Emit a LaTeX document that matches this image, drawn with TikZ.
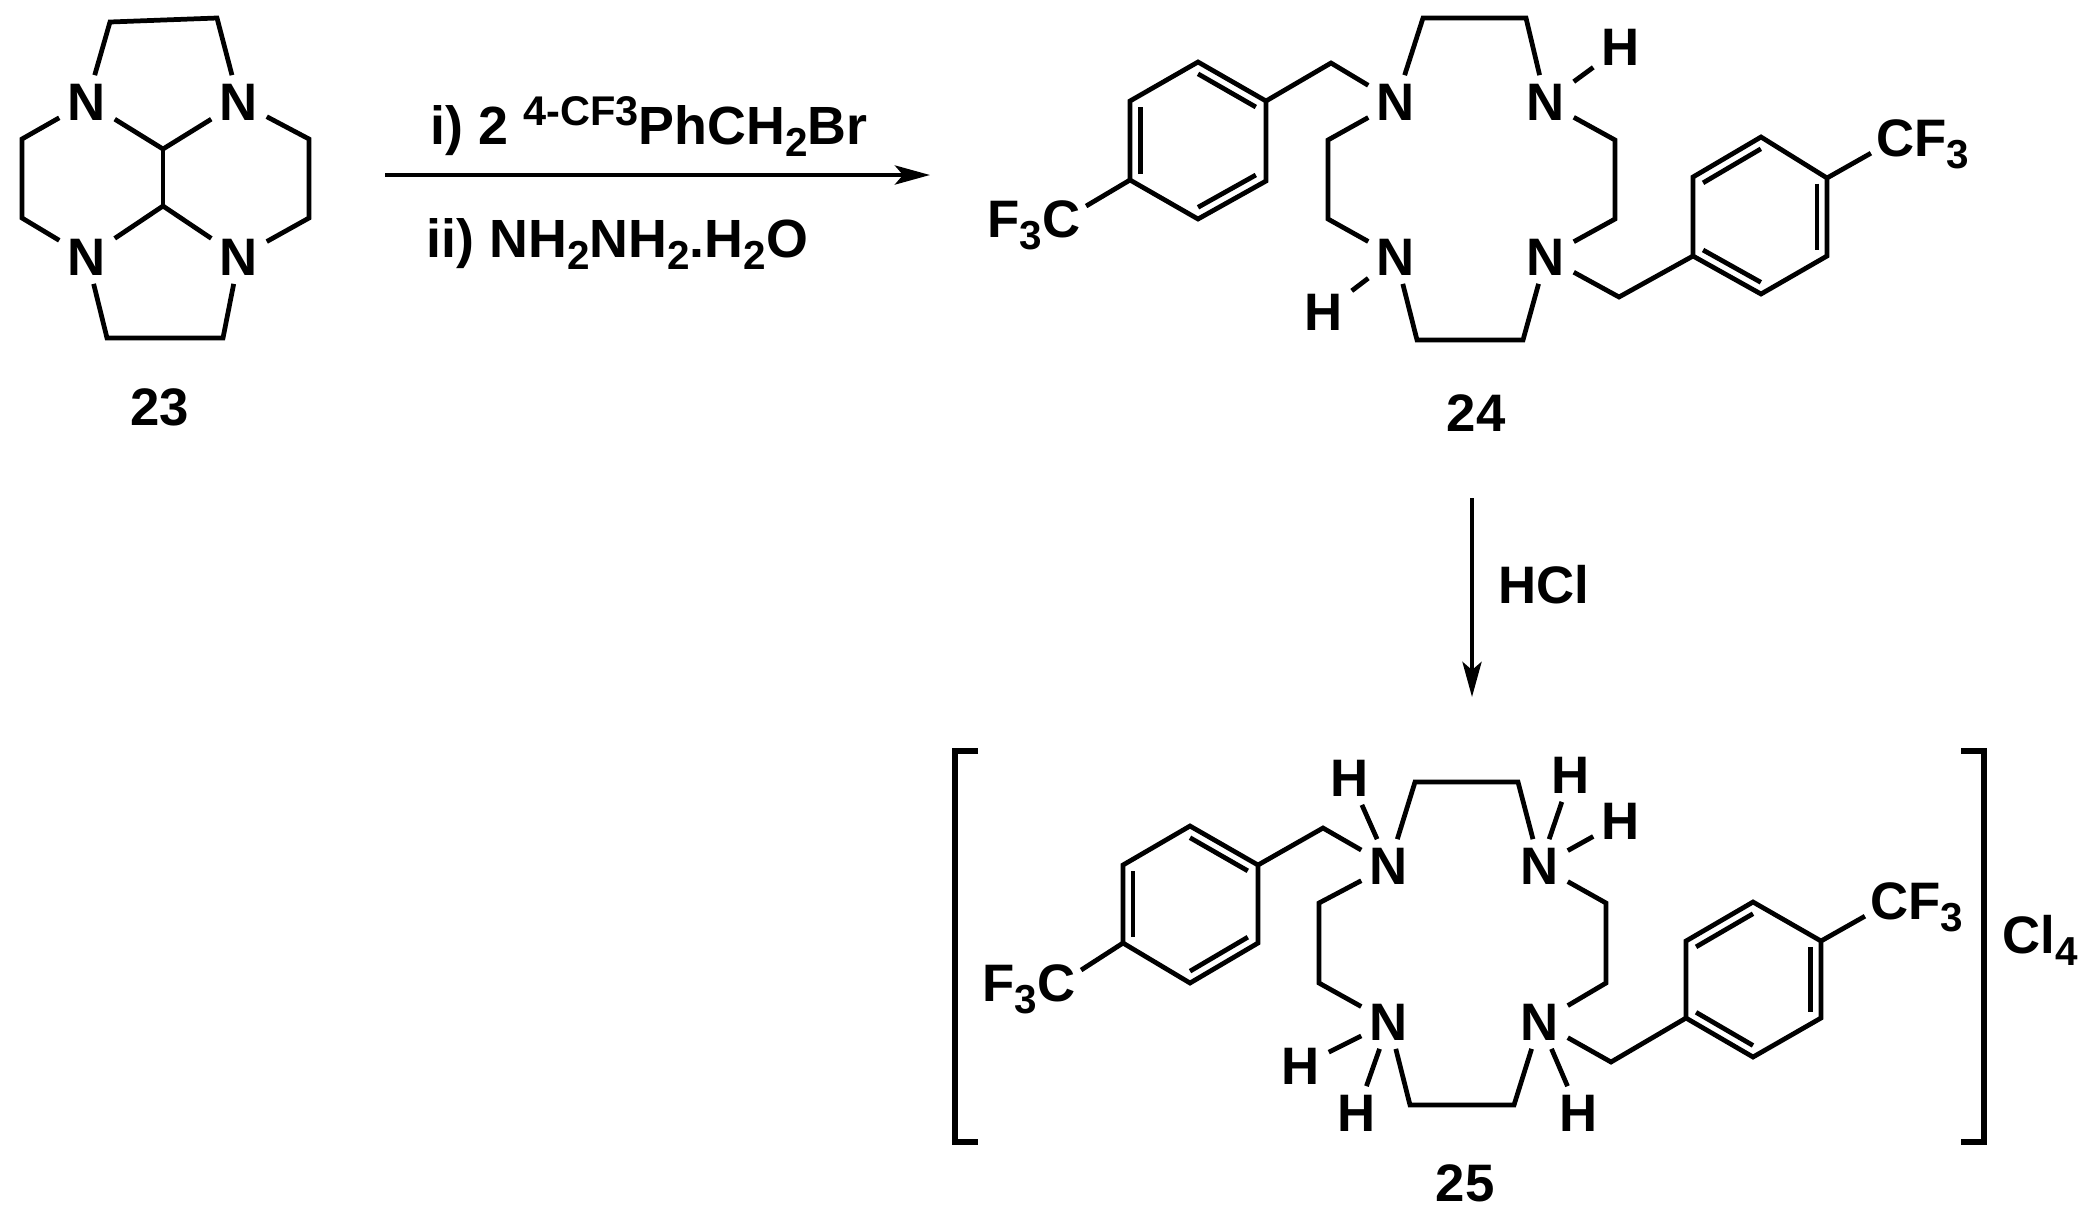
\documentclass[tikz,border=0pt]{standalone}
\usepackage{fontspec}
\setmainfont{Liberation Sans}
\usetikzlibrary{calc,arrows.meta}

\tikzset{
  bond/.style={line width=1.35pt,line join=miter},
  atom/.style={font=\fontsize{15}{18}\selectfont\bfseries,inner sep=.08cm},
  group/.style={font=\fontsize{15}{18}\selectfont\bfseries,inner sep=.05cm},
  txt/.style={font=\fontsize{15.3}{18}\selectfont\bfseries,inner sep=0pt,anchor=base west},
  rxn/.style={line width=1.3pt,-{Stealth[length=.35cm,width=.19cm,inset=.08cm]}},
  brack/.style={line width=1.5pt}
}
\newcommand{\subn}[1]{\raisebox{-.12cm}{\fontsize{11.5}{13}\selectfont #1}}
\newcommand{\supn}[1]{\raisebox{.19cm}{\fontsize{11.8}{13}\selectfont #1}}

\begin{document}
\begin{tikzpicture}[x=.01cm,y=-.01cm]
   \useasboundingbox (0,0) rectangle (2094,1214);

   % 23
   \path (87,102) node[atom] (Na1) {N};
   \path (239,102) node[atom] (Na2) {N};
   \path (87,257) node[atom] (Na3) {N};
   \path (239,257) node[atom] (Na4) {N};
   \path (110,22) coordinate (Ca1) (217,18) coordinate (Ca2);
   \path (107,338) coordinate (Ca3) (223,338) coordinate (Ca4);
   \path (22,139) coordinate (Ca5) (22,218) coordinate (Ca6);
   \path (309,139) coordinate (Ca7) (309,218) coordinate (Ca8);
   \path (163,149) coordinate (Ca9) (163,206) coordinate (Ca10);
   \draw[bond] (Na1) -- (Ca1) -- (Ca2) -- (Na2);
   \draw[bond] (Na3) -- (Ca3) -- (Ca4) -- (Na4);
   \draw[bond] (Na1) -- (Ca5) -- (Ca6) -- (Na3);
   \draw[bond] (Na2) -- (Ca7) -- (Ca8) -- (Na4);
   \draw[bond] (Na1) -- (Ca9) -- (Na2);
   \draw[bond] (Na3) -- (Ca10) -- (Na4);
   \draw[bond] (Ca9) -- (Ca10);
   \path (160,407) node[group] (L23) {23};

   % reaction 1
   \path (385,175) coordinate (Ar1s) (930,175) coordinate (Ar1e);
   \draw[rxn] (Ar1s) -- (Ar1e);
   \path (430,144) node[txt] (Rg1) {i) 2 \supn{4-CF3}PhCH\subn{2}Br};
   \path (426,257) node[txt] (Rg2) {ii) NH\subn{2}NH\subn{2}.H\subn{2}O};

   % 24
   \path (1396,102) node[atom] (Nb1) {N};
   \path (1546,102) node[atom] (Nb2) {N};
   \path (1396,257) node[atom] (Nb3) {N};
   \path (1546,257) node[atom] (Nb4) {N};
   \path (1621,47) node[atom] (Hb1) {H};
   \path (1324,312) node[atom] (Hb2) {H};
   \path (1423,18) coordinate (Cb1) (1526,18) coordinate (Cb2);
   \path (1417,340) coordinate (Cb3) (1523,340) coordinate (Cb4);
   \path (1328,140) coordinate (Cb5) (1328,219) coordinate (Cb6);
   \path (1615,140) coordinate (Cb7) (1615,219) coordinate (Cb8);
   \path (1331,63) coordinate (Cb9) (1619,297) coordinate (Cb10);
   \draw[bond] (Nb1) -- (Cb1) -- (Cb2) -- (Nb2);
   \draw[bond] (Nb3) -- (Cb3) -- (Cb4) -- (Nb4);
   \draw[bond] (Nb1) -- (Cb5) -- (Cb6) -- (Nb3);
   \draw[bond] (Nb2) -- (Cb7) -- (Cb8) -- (Nb4);
   \draw[bond] (Nb2) -- (Hb1) (Nb3) -- (Hb2);

   \path (1198,62) coordinate (Pa1) (1266,101) coordinate (Pa2);
   \path (1266,181) coordinate (Pa3) (1198,219) coordinate (Pa4);
   \path (1130,180) coordinate (Pa5) (1130,101) coordinate (Pa6);
   \path (1198,141) coordinate (Pa0);
   \draw[bond] (Pa1) -- (Pa2) -- (Pa3) -- (Pa4) -- (Pa5) -- (Pa6) -- cycle;
   \foreach \a/\b in {Pa1/Pa2,Pa3/Pa4,Pa5/Pa6}
     \draw[bond] ($(\a)!.15!(Pa0)$) -- ($(\b)!.15!(Pa0)$);
   \draw[bond] (Nb1) -- (Cb9) -- (Pa2);
   \path (1034,225) node[group] (Fa1) {F\subn{3}C};
   \draw[bond] (Pa5) -- (Fa1.20);

   \path (1761,137) coordinate (Pb1) (1827,178) coordinate (Pb2);
   \path (1827,256) coordinate (Pb3) (1761,294) coordinate (Pb4);
   \path (1693,256) coordinate (Pb5) (1693,177) coordinate (Pb6);
   \path (1760,216) coordinate (Pb0);
   \draw[bond] (Pb1) -- (Pb2) -- (Pb3) -- (Pb4) -- (Pb5) -- (Pb6) -- cycle;
   \foreach \a/\b in {Pb2/Pb3,Pb4/Pb5,Pb6/Pb1}
     \draw[bond] ($(\a)!.15!(Pb0)$) -- ($(\b)!.15!(Pb0)$);
   \draw[bond] (Nb4) -- (Cb10) -- (Pb5);
   \path (1923,144) node[group] (Fa2) {CF\subn{3}};
   \draw[bond] (Pb2) -- (Fa2.190);
   \path (1476,413) node[group] (L24) {24};

   % reaction 2
   \path (1472,498) coordinate (Ar2s) (1472,697) coordinate (Ar2e);
   \draw[rxn] (Ar2s) -- (Ar2e);
   \path (1544,585) node[group] (Rg3) {HCl};

   % 25
   \path (1389,866) node[atom] (Nc1) {N};
   \path (1540,866) node[atom] (Nc2) {N};
   \path (1389,1022) node[atom] (Nc3) {N};
   \path (1540,1022) node[atom] (Nc4) {N};
   \path (1350,778) node[atom] (Hc1) {H};
   \path (1571,775) node[atom] (Hc2) {H};
   \path (1621,821) node[atom] (Hc3) {H};
   \path (1301,1066) node[atom] (Hc4) {H};
   \path (1357,1113) node[atom] (Hc5) {H};
   \path (1579,1113) node[atom] (Hc6) {H};
   \path (1415,782) coordinate (Cc1) (1518,782) coordinate (Cc2);
   \path (1410,1105) coordinate (Cc3) (1514,1105) coordinate (Cc4);
   \path (1319,903) coordinate (Cc5) (1319,983) coordinate (Cc6);
   \path (1606,903) coordinate (Cc7) (1606,983) coordinate (Cc8);
   \path (1323,828) coordinate (Cc9) (1611,1062) coordinate (Cc10);
   \draw[bond] (Nc1) -- (Cc1) -- (Cc2) -- (Nc2);
   \draw[bond] (Nc3) -- (Cc3) -- (Cc4) -- (Nc4);
   \draw[bond] (Nc1) -- (Cc5) -- (Cc6) -- (Nc3);
   \draw[bond] (Nc2) -- (Cc7) -- (Cc8) -- (Nc4);
   \draw[bond] (Nc1) -- (Hc1) (Nc2) -- (Hc2) (Nc2) -- (Hc3);
   \draw[bond] (Nc3) -- (Hc4) (Nc3) -- (Hc5) (Nc4) -- (Hc6);

   \path (1190,826) coordinate (Pc1) (1258,865) coordinate (Pc2);
   \path (1258,943) coordinate (Pc3) (1190,983) coordinate (Pc4);
   \path (1123,943) coordinate (Pc5) (1123,865) coordinate (Pc6);
   \path (1190,904) coordinate (Pc0);
   \draw[bond] (Pc1) -- (Pc2) -- (Pc3) -- (Pc4) -- (Pc5) -- (Pc6) -- cycle;
   \foreach \a/\b in {Pc1/Pc2,Pc3/Pc4,Pc5/Pc6}
     \draw[bond] ($(\a)!.15!(Pc0)$) -- ($(\b)!.15!(Pc0)$);
   \draw[bond] (Nc1) -- (Cc9) -- (Pc2);
   \path (1029,989) node[group] (Fc1) {F\subn{3}C};
   \draw[bond] (Pc5) -- (Fc1.20);

   \path (1753,902) coordinate (Pd1) (1821,941) coordinate (Pd2);
   \path (1821,1018) coordinate (Pd3) (1753,1057) coordinate (Pd4);
   \path (1686,1018) coordinate (Pd5) (1686,941) coordinate (Pd6);
   \path (1753,980) coordinate (Pd0);
   \draw[bond] (Pd1) -- (Pd2) -- (Pd3) -- (Pd4) -- (Pd5) -- (Pd6) -- cycle;
   \foreach \a/\b in {Pd2/Pd3,Pd4/Pd5,Pd6/Pd1}
     \draw[bond] ($(\a)!.15!(Pd0)$) -- ($(\b)!.15!(Pd0)$);
   \draw[bond] (Nc4) -- (Cc10) -- (Pd5);
   \path (1917,907) node[group] (Fc2) {CF\subn{3}};
   \draw[bond] (Pd2) -- (Fc2.190);

   % brackets
   \path (978,751) coordinate (Bl1) (955,751) coordinate (Bl2);
   \path (955,1142) coordinate (Bl3) (978,1142) coordinate (Bl4);
   \path (1961,751) coordinate (Br1) (1984,751) coordinate (Br2);
   \path (1984,1142) coordinate (Br3) (1961,1142) coordinate (Br4);
   \draw[brack] (Bl1) -- (Bl2) -- (Bl3) -- (Bl4);
   \draw[brack] (Br1) -- (Br2) -- (Br3) -- (Br4);
   \path (2040,940) node[group] (Cl4) {Cl\subn{4}};
   \path (1465,1183) node[group] (L25) {25};
\end{tikzpicture}
\end{document}
